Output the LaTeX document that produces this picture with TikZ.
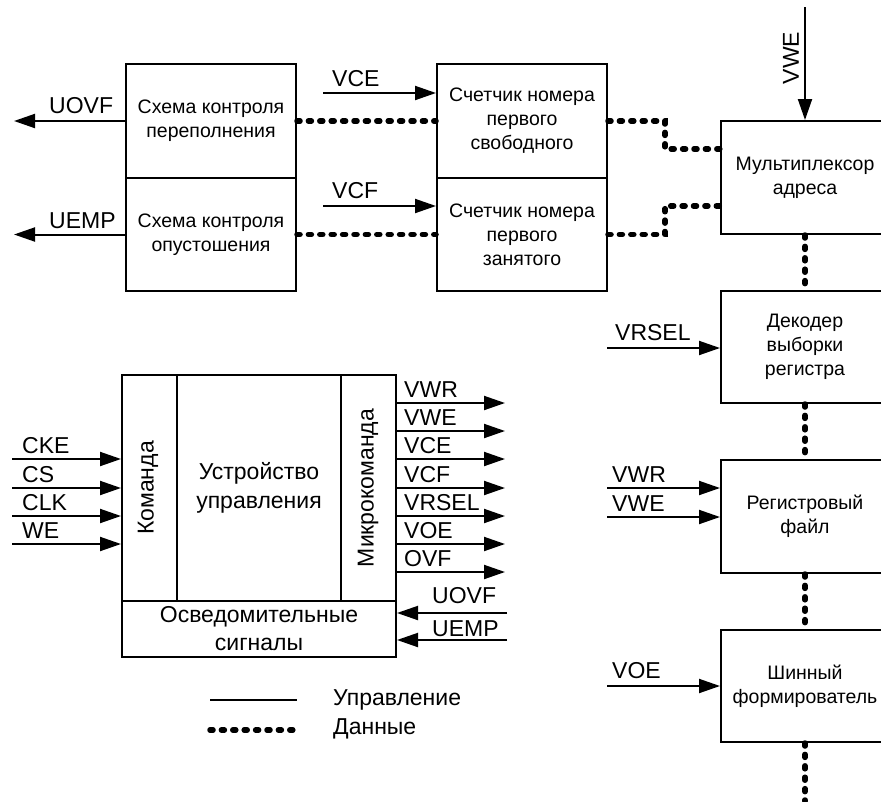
\documentclass[tikz,border=0pt]{standalone}
\usepackage{fontspec}
\setmainfont{Liberation Sans}
\usetikzlibrary{arrows.meta}

\tikzset{
  blk/.style={draw, line width=2pt, minimum width=170pt, minimum height=113pt,
    inner sep=0pt, align=center, font=\fontsize{19.5}{24}\selectfont},
  ctl/.style={line width=2pt, -{Triangle[length=21pt,width=14pt]}},
  wire/.style={line width=2pt},
  dat/.style={line width=5.5pt, line cap=round, dash pattern=on 3pt off 8.4pt},
  sig/.style={inner sep=0pt, font=\fontsize{23}{28}\selectfont},
}

\begin{document}
\begin{tikzpicture}[x=1pt, y=-1pt]
    \clip (0,0) rectangle (881,801);

    % Bloky kontroly a citace
    \node[blk, minimum height=114pt] (ovf) at (211,121) {Схема контроля\\переполнения};
    \node[blk] (emp) at (211,234.5) {Схема контроля\\опустошения};
    \node[blk, minimum height=114pt] (cfree) at (522,121) {Счетчик номера\\первого\\свободного};
    \node[blk] (cbusy) at (522,234.5) {Счетчик номера\\первого\\занятого};

    % Pravy sloupec
    \node[blk, minimum width=168pt] (mux) at (805,177.5) {Мультиплексор\\адреса};
    \node[blk, minimum width=168pt, minimum height=112pt] (dec) at (805,347) {Декодер\\выборки\\регистра};
    \node[blk, minimum width=168pt] (rf) at (805,516.5) {Регистровый\\файл};
    \node[blk, minimum width=168pt, minimum height=112pt] (bus) at (805,686) {Шинный\\формирователь};

    % Vystupy a vstupy hornich bloku
    \draw[ctl] (ovf.west) -- (14,121);
    \draw[ctl] (emp.west) -- (14,234.5);
    \node[sig, anchor=base west] (luovf) at (49,113) {UOVF};
    \node[sig, anchor=base west] (luemp) at (49,228) {UEMP};
    \draw[ctl] (323,93) -- (cfree.west |- 0,93);
    \draw[ctl] (323,206) -- (cbusy.west |- 0,206);
    \node[sig, anchor=base west] (lvce) at (332,86) {VCE};
    \node[sig, anchor=base west] (lvcf) at (332,198) {VCF};
    \draw[ctl] (805,7) -- (mux.north);
    \node[sig, rotate=90] (lvwe) at (791,58) {VWE};

    % Datove cesty
    \draw[dat] (ovf.east) -- (cfree.west);
    \draw[dat] (emp.east) -- (cbusy.west);
    \draw[dat] (cfree.east) -- (665,121) |- (mux.west |- 0,149);
    \draw[dat] (cbusy.east) -- (665,234.5) |- (mux.west |- 0,206);
    \draw[dat] (mux.south) -- (dec.north);
    \draw[dat] (dec.south) -- (rf.north);
    \draw[dat] (rf.south) -- (bus.north);
    \draw[dat] (bus.south) -- (805,801);

    % Ridici signaly praveho sloupce
    \draw[ctl] (607,348) -- (dec.west |- 0,348);
    \node[sig, anchor=base west] (lvrsel) at (615,340) {VRSEL};
    \draw[ctl] (607,488) -- (rf.west |- 0,488);
    \draw[ctl] (607,517) -- (rf.west |- 0,517);
    \node[sig, anchor=base west] (lvwr) at (612,482) {VWR};
    \node[sig, anchor=base west] (lvwe2) at (612,511) {VWE};
    \draw[ctl] (607,686) -- (bus.west |- 0,686);
    \node[sig, anchor=base west] (lvoe) at (612,678) {VOE};

    % Ridici jednotka
    \node[draw, line width=2pt, minimum width=274pt, minimum height=282pt, inner sep=0pt] (cu) at (259,516) {};
    \draw[wire] (122,601) -- (396,601);
    \draw[wire] (177,375) -- (177,601);
    \draw[wire] (341,375) -- (341,601);
    \node[sig, align=center, font=\fontsize{23}{29}\selectfont] (cutxt) at (259,488) {Устройство\\управления};
    \node[sig, rotate=90] (cmd) at (148,488) {Команда};
    \node[sig, rotate=90] (mcmd) at (368,488) {Микрокоманда};
    \node[sig, align=center, font=\fontsize{23}{28}\selectfont] (info) at (259,629) {Осведомительные\\сигналы};

    % Vstupy ridici jednotky
    \foreach \y/\t in {459/CKE, 488/CS, 516/CLK, 544/WE} {
        \draw[ctl] (12,\y) -- (cu.west |- 0,\y);
        \node[sig, anchor=base west] at (22,\y-6) {\t};
    }

    % Mikrokomandy
    \foreach \y/\t in {403/VWR, 431/VWE, 459/VCE, 488/VCF, 516/VRSEL, 544/VOE, 572/OVF} {
        \draw[ctl] (cu.east |- 0,\y) -- (505,\y);
        \node[sig, anchor=base west] at (404,\y-6) {\t};
    }

    % Osvedomitelne signaly
    \draw[ctl] (507,613) -- (cu.east |- 0,613);
    \draw[ctl] (507,640) -- (cu.east |- 0,640);
    \node[sig, anchor=base west] (luovf2) at (432,603) {UOVF};
    \node[sig, anchor=base west] (luemp2) at (432,636) {UEMP};

    % Legenda
    \coordinate (lga) at (210,700);
    \coordinate (lgb) at (297,700);
    \coordinate (lgc) at (210,730);
    \coordinate (lgd) at (297,730);
    \draw[wire] (lga) -- (lgb);
    \draw[dat] (lgc) -- (lgd);
    \node[sig, anchor=west] (lgctl) at (333,700) {Управление};
    \node[sig, anchor=west] (lgdat) at (333,729) {Данные};
\end{tikzpicture}
\end{document}
